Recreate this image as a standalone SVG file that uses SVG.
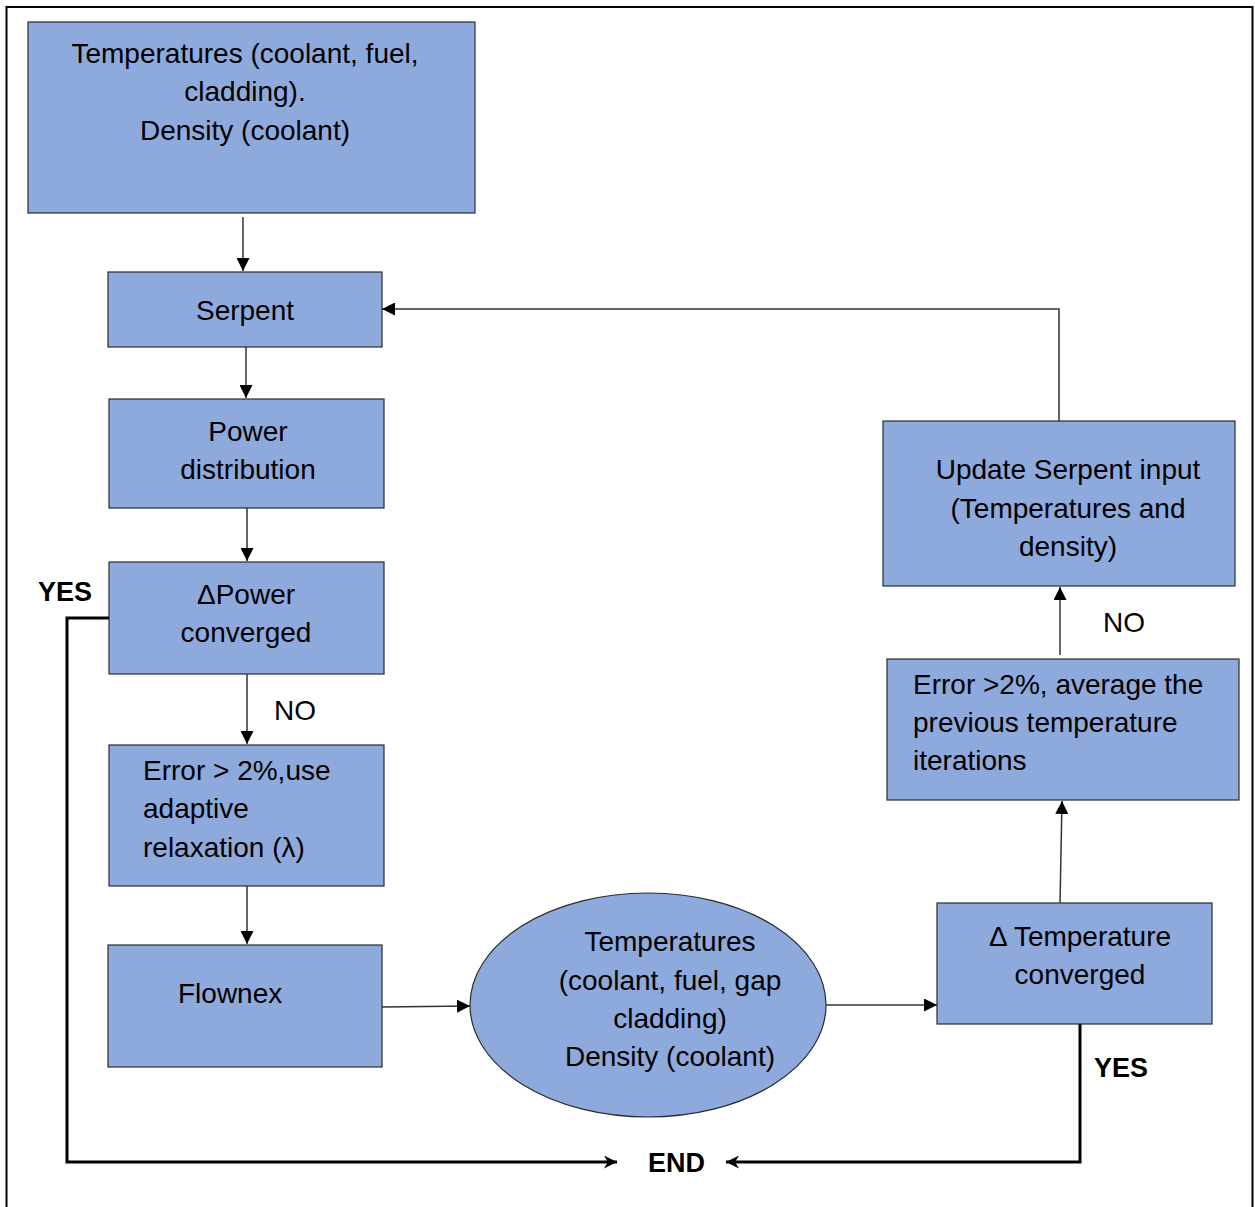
<svg xmlns="http://www.w3.org/2000/svg" width="1255" height="1207" viewBox="0 0 1255 1207">
<defs>
<style>
.box{fill:#8EAADC;stroke:#2a2a2a;stroke-width:1.2}
.t{font-family:"Liberation Sans",Arial,sans-serif;font-size:28px;fill:#000}
.c{text-anchor:middle}
.b{font-weight:bold;font-size:27px}
.thin{fill:none;stroke:#333;stroke-width:1.5}
.thick{fill:none;stroke:#000;stroke-width:3}
</style>
<marker id="a" viewBox="0 0 10 10" refX="10" refY="5" markerWidth="13" markerHeight="13" markerUnits="userSpaceOnUse" orient="auto"><path d="M0,0 L10,5 L0,10 z" fill="#000"/></marker>
<marker id="ab" viewBox="0 0 10 10" refX="10" refY="5" markerWidth="13" markerHeight="13" markerUnits="userSpaceOnUse" orient="auto"><path d="M0,0 L10,5 L0,10 L3,5 z" fill="#000"/></marker>
</defs>
<rect x="0" y="0" width="1255" height="1207" fill="#fff"/>
<rect x="6.5" y="7" width="1246" height="1220" fill="none" stroke="#000" stroke-width="2"/>

<g id="n1"><rect class="box" x="28" y="22" width="447" height="191"/>
<text class="t c" x="245" y="63">Temperatures (coolant, fuel,</text>
<text class="t c" x="245" y="101">cladding).</text>
<text class="t c" x="245" y="140">Density (coolant)</text></g>

<g id="n2"><rect class="box" x="108" y="272" width="274" height="75"/>
<text class="t c" x="245" y="320">Serpent</text></g>

<g id="n3"><rect class="box" x="109" y="399" width="275" height="109"/>
<text class="t c" x="248" y="441">Power</text>
<text class="t c" x="248" y="479">distribution</text></g>

<g id="n4"><rect class="box" x="109" y="562" width="275" height="112"/>
<text class="t c" x="246" y="604">ΔPower</text>
<text class="t c" x="246" y="642">converged</text></g>

<g id="n5"><rect class="box" x="109" y="745" width="275" height="141"/>
<text class="t" x="143" y="780">Error &gt; 2%,use</text>
<text class="t" x="143" y="818">adaptive</text>
<text class="t" x="143" y="857">relaxation (λ)</text></g>

<g id="n6"><rect class="box" x="108" y="945" width="274" height="122"/>
<text class="t" x="178" y="1003">Flownex</text></g>

<g id="n7"><ellipse class="box" cx="648" cy="1005" rx="178" ry="112"/>
<text class="t c" x="670" y="951">Temperatures</text>
<text class="t c" x="670" y="990">(coolant, fuel, gap</text>
<text class="t c" x="670" y="1028">cladding)</text>
<text class="t c" x="670" y="1066">Density (coolant)</text></g>

<g id="n8"><rect class="box" x="937" y="903" width="275" height="121"/>
<text class="t c" x="1080" y="946">Δ Temperature</text>
<text class="t c" x="1080" y="984">converged</text></g>

<g id="n9"><rect class="box" x="887" y="659" width="352" height="141"/>
<text class="t" x="913" y="694">Error &gt;2%, average the</text>
<text class="t" x="913" y="732">previous temperature</text>
<text class="t" x="913" y="770">iterations</text></g>

<g id="n10"><rect class="box" x="883" y="421" width="352" height="165"/>
<text class="t c" x="1068" y="479">Update Serpent input</text>
<text class="t c" x="1068" y="518">(Temperatures and</text>
<text class="t c" x="1068" y="556">density)</text></g>

<g id="connectors">
<path class="thin" d="M243,217 V271" marker-end="url(#a)"/>
<path class="thin" d="M246,347 V398" marker-end="url(#a)"/>
<path class="thin" d="M247,508 V561" marker-end="url(#a)"/>
<path class="thin" d="M247,674 V744" marker-end="url(#a)"/>
<path class="thin" d="M247,886 V944" marker-end="url(#a)"/>
<path class="thin" d="M382,1007 L470,1006" marker-end="url(#a)"/>
<path class="thin" d="M826,1005 H937" marker-end="url(#a)"/>
<path class="thin" d="M1060,903 L1062,801" marker-end="url(#a)"/>
<path class="thin" d="M1060,655 V587" marker-end="url(#a)"/>
<path class="thin" d="M1059,421 V309 H382" marker-end="url(#a)"/>
<path class="thick" d="M109,618 H67 V1162 H617" marker-end="url(#ab)"/>
<path class="thick" d="M1080,1024 V1162 H726" marker-end="url(#ab)"/>
<text class="t" x="274" y="720">NO</text>
<text class="t" x="1103" y="632">NO</text>
<text class="t b" x="38" y="601">YES</text>
<text class="t b" x="1094" y="1077">YES</text>
<text class="t b" x="648" y="1172">END</text>
</g>
</svg>
